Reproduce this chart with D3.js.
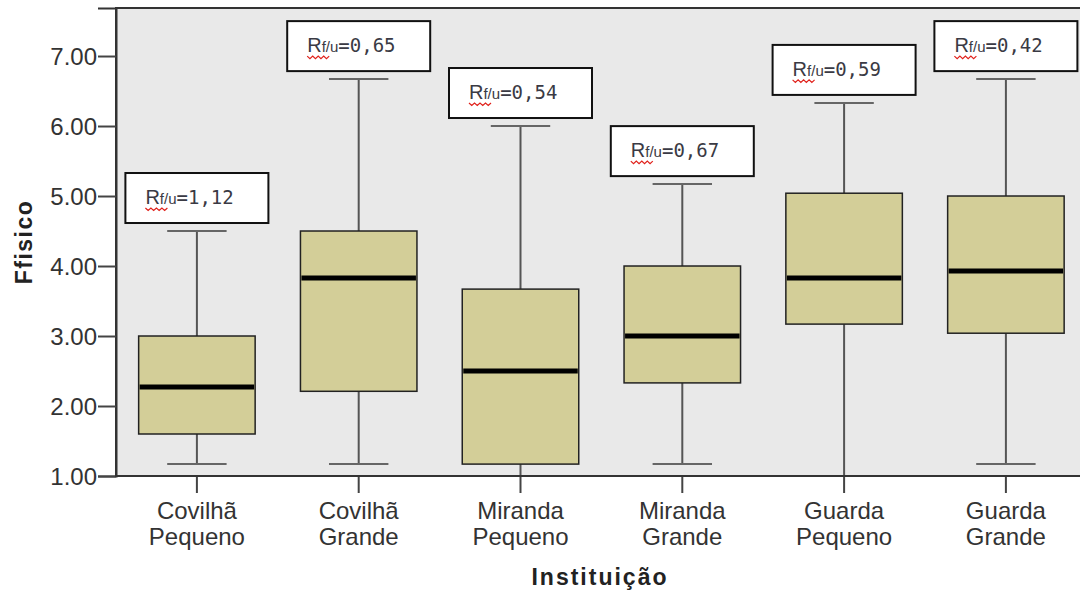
<!DOCTYPE html>
<html><head><meta charset="utf-8">
<script src="https://cdn.jsdelivr.net/npm/d3@7"></script>
<style>body{margin:0;background:#fff;}svg{display:block;}</style>
</head><body>
<svg id="chart" width="1080" height="591"></svg>
<script>
const institutions = ["Covilhã","Covilhã","Miranda","Miranda","Guarda","Guarda"];
const sizes = ["Pequeno","Grande","Pequeno","Grande","Pequeno","Grande"];
const mins    = [1.17, 1.17, 1.00, 1.17, 1.00, 1.17];
const q1s     = [1.60, 2.21, 1.17, 2.33, 3.17, 3.04];
const medians = [2.27, 3.83, 2.50, 3.00, 3.83, 3.93];
const q3s     = [3.00, 4.50, 3.67, 4.00, 5.04, 5.00];
const maxs    = [4.50, 6.67, 6.00, 5.17, 6.33, 6.67];
const rValues = ["1,12","0,65","0,54","0,67","0,59","0,42"];
const yTicks  = [1,2,3,4,5,6,7];

const keys = institutions.map((d,i)=>d+" "+sizes[i]);
const svg = d3.select("#chart");
const plotLeft = 116, plotTop = 8, plotBottom = 476;
const x = d3.scaleBand().domain(keys).range([plotLeft, plotLeft + 6*161.8]).padding(0);
const y = d3.scaleLinear().domain([1, 7.686]).range([plotBottom, plotTop]);

// plot background
svg.append("rect").attr("x", plotLeft).attr("y", plotTop).attr("width", 1090-plotLeft).attr("height", plotBottom-plotTop)
  .attr("fill", "#e9e9e9").attr("stroke", "#333").attr("stroke-width", 2);

const boxW = x.step()*0.72, capW = boxW*0.51;
const g = svg.append("g");
keys.forEach((k,i)=>{
  const cx = x(k) + x.bandwidth()/2;
  g.append("line").attr("x1",cx).attr("x2",cx).attr("y1",y(maxs[i])).attr("y2",y(q3s[i])).attr("stroke","#555").attr("stroke-width",2);
  g.append("line").attr("x1",cx).attr("x2",cx).attr("y1",y(q1s[i])).attr("y2",y(mins[i])).attr("stroke","#555").attr("stroke-width",2);
  g.append("line").attr("x1",cx-capW/2).attr("x2",cx+capW/2).attr("y1",y(maxs[i])).attr("y2",y(maxs[i])).attr("stroke","#666").attr("stroke-width",2);
  g.append("line").attr("x1",cx-capW/2).attr("x2",cx+capW/2).attr("y1",y(mins[i])).attr("y2",y(mins[i])).attr("stroke","#666").attr("stroke-width",2);
  g.append("rect").attr("x",cx-boxW/2).attr("y",y(q3s[i])).attr("width",boxW).attr("height",y(q1s[i])-y(q3s[i]))
    .attr("fill","#d3ce98").attr("stroke","#222").attr("stroke-width",1.5);
  g.append("line").attr("x1",cx-boxW/2+1).attr("x2",cx+boxW/2-1).attr("y1",y(medians[i])).attr("y2",y(medians[i]))
    .attr("stroke","#000").attr("stroke-width",5);
  // annotation
  const bw = 143, bh = 50;
  const by = y(maxs[i]) - 8 - bh;
  const bx = cx - bw/2;
  const ag = svg.append("g");
  ag.append("rect").attr("x",bx).attr("y",by).attr("width",bw).attr("height",bh).attr("fill","#fff").attr("stroke","#111").attr("stroke-width",2);
  const t = ag.append("text").attr("x",bx+20).attr("y",by+31).attr("fill","#3a3a44");
  t.append("tspan").attr("font-family","Liberation Sans, Arial, sans-serif").attr("font-size",20).text("R");
  t.append("tspan").attr("font-family","Liberation Sans, Arial, sans-serif").attr("font-size",15).text("f/u");
  t.append("tspan").attr("font-family","DejaVu Sans Mono, monospace").attr("font-size",19).text("="+rValues[i]);
  let p = "M"+(bx+20)+","+(by+35);
  for(let s=0;s<8;s++){ p += " L"+(bx+22.75+s*2.75)+","+(by+(s%2===0?37.5:35)); }
  ag.append("path").attr("d",p).attr("fill","none").attr("stroke","#e0201a").attr("stroke-width",1.2);
});

// y axis
const ya = svg.append("g").attr("transform",`translate(${plotLeft},0)`)
  .call(d3.axisLeft(y).tickValues(yTicks).tickFormat(d3.format(".2f")).tickSize(18).tickPadding(1));
ya.select(".domain").attr("stroke","#333").attr("stroke-width",2);
ya.selectAll(".tick line").attr("stroke","#444").attr("stroke-width",2);
ya.selectAll(".tick text").attr("font-family","Liberation Sans, Arial, sans-serif").attr("font-size",24).attr("fill","#333").attr("dy","0.36em");

// x axis
const xa = svg.append("g").attr("transform",`translate(0,${plotBottom})`)
  .call(d3.axisBottom(x).tickSize(17).tickFormat(""));
xa.select(".domain").remove();
xa.selectAll(".tick line").attr("stroke","#444").attr("stroke-width",2);
keys.forEach((k,i)=>{
  const cx = x(k) + x.bandwidth()/2;
  const t = svg.append("text").attr("text-anchor","middle").attr("font-family","Liberation Sans, Arial, sans-serif")
    .attr("font-size",24).attr("fill","#333");
  t.append("tspan").attr("x",cx).attr("y",519).text(institutions[i]);
  t.append("tspan").attr("x",cx).attr("y",545).text(sizes[i]);
});
svg.append("line").attr("x1",plotLeft-1).attr("x2",1080).attr("y1",plotBottom).attr("y2",plotBottom).attr("stroke","#333").attr("stroke-width",2);

// titles
svg.append("text").attr("x",600).attr("y",585).attr("text-anchor","middle")
  .attr("font-family","Liberation Sans, Arial, sans-serif").attr("font-weight","bold").attr("font-size",23)
  .attr("letter-spacing",2).attr("fill","#222").text("Instituição");
svg.append("text").attr("transform","translate(32,242) rotate(-90)").attr("text-anchor","middle")
  .attr("font-family","Liberation Sans, Arial, sans-serif").attr("font-weight","bold").attr("font-size",23)
  .attr("letter-spacing",1.5).attr("fill","#222").text("Ffisico");
</script>
</body></html>
